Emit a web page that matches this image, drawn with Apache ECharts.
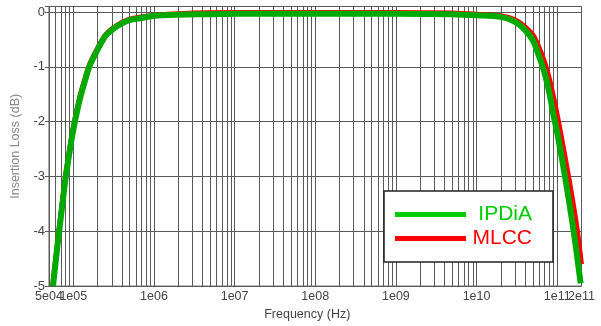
<!DOCTYPE html>
<html>
<head>
<meta charset="utf-8">
<script src="https://cdn.jsdelivr.net/npm/echarts@6/dist/echarts.min.js"></script>
<style>
html,body{margin:0;padding:0;background:#fff;}
#chart{width:601px;height:326px;}
</style>
</head>
<body>
<div id="chart"></div>
<script>
// ---- data ----
const seriesNames = ['IPDiA', 'MLCC'];

const freqIPDiA = [5.6e4, 6e4, 6.5e4, 7e4, 8e4, 9e4, 1e5, 1.2e5, 1.4e5, 1.6e5, 2e5, 2.5e5, 3e5, 4e5, 5e5, 7e5, 1e6, 2e6, 5e6, 1e7, 1e8, 1e9, 5e9, 1e10, 2e10, 3e10, 4e10, 5e10, 6e10, 7e10, 8e10, 9e10, 1e11, 1.2e11, 1.4e11, 1.6e11, 1.8e11, 1.95e11];
const lossIPDiA = [-5.0, -4.6, -4.15, -3.75, -3.05, -2.55, -2.15, -1.6, -1.25, -0.98, -0.69, -0.44, -0.33, -0.21, -0.15, -0.11, -0.07, -0.05, -0.04, -0.03, -0.03, -0.03, -0.04, -0.06, -0.09, -0.18, -0.33, -0.52, -0.82, -1.12, -1.48, -1.88, -2.2, -2.85, -3.45, -4.0, -4.55, -4.95];

const freqMLCC = [5.55e4, 6e4, 6.5e4, 7e4, 8e4, 9e4, 1e5, 1.2e5, 1.4e5, 1.6e5, 2e5, 2.5e5, 3e5, 4e5, 5e5, 7e5, 1e6, 2e6, 1e7, 1e8, 1e9, 5e9, 1e10, 2e10, 3e10, 4e10, 5e10, 6e10, 7e10, 8e10, 9e10, 1e11, 1.2e11, 1.4e11, 1.6e11, 1.8e11, 2e11];
const lossMLCC = [-5.0, -4.55, -4.1, -3.7, -3.0, -2.5, -2.1, -1.56, -1.21, -0.95, -0.66, -0.42, -0.31, -0.19, -0.13, -0.09, -0.06, -0.03, -0.01, -0.01, -0.01, -0.02, -0.04, -0.07, -0.14, -0.27, -0.42, -0.66, -0.92, -1.22, -1.55, -1.88, -2.5, -3.05, -3.55, -4.05, -4.6];

const xLabelValues = [1e5, 1e6, 1e7, 1e8, 1e9, 1e10, 1e11];
const xEndLabelValues = [5e4, 2e11];
const xGridMantissas = [1, 2, 3, 4, 5, 6, 7, 8, 9];
const xGridDecades = [1e4, 1e5, 1e6, 1e7, 1e8, 1e9, 1e10, 1e11];
const yTicks = [-5, -4, -3, -2, -1, 0];

// ---- build ----
const X_MIN = 5e4, X_MAX = 2e11;
// nudge end values inward by a negligible amount so float round-trips keep them
const nudge = v => (v <= X_MIN ? v * 1.000001 : v >= X_MAX ? v * 0.999999 : v);
const xGridValues = [];
xGridDecades.forEach(d => xGridMantissas.forEach(m => {
  const v = m * d;
  if (v >= X_MIN && v <= X_MAX) xGridValues.push(nudge(v));
}));

function fmtExp(v) {
  const e = Math.floor(Math.log10(v) + 1e-6);
  const m = Math.round(v / Math.pow(10, e));
  return m + 'e' + (e < 10 ? '0' : '') + e;
}
const pairs = (xs, ys) => xs.map((x, i) => [x, ys[i]]);

const FONT = 'Liberation Sans, Arial, sans-serif';
const GRID_COLOR = '#5a5a5a';
const LABEL_STYLE = {fontFamily: FONT, fontSize: 12.5, color: '#444', margin: 4};

const chart = echarts.init(document.getElementById('chart'), null, {renderer: 'canvas'});
chart.setOption({
  animation: false,
  backgroundColor: '#fff',
  grid: {
    left: 49, right: 19.5, top: 6.5, bottom: 36.5,
    show: true, borderColor: GRID_COLOR, borderWidth: 1, backgroundColor: 'transparent'
  },
  xAxis: [
    {
      type: 'log',
      logBase: 10,
      min: X_MIN,
      max: X_MAX,
      name: 'Frequency (Hz)',
      nameLocation: 'middle',
      nameGap: 19,
      nameTextStyle: {fontFamily: FONT, fontSize: 12.5, color: '#444', padding: [0, 16, 0, 0]},
      axisLine: {show: true, lineStyle: {color: GRID_COLOR, width: 1}},
      axisTick: {show: false, customValues: xGridValues},
      axisLabel: Object.assign({customValues: xLabelValues, formatter: v => fmtExp(v)}, LABEL_STYLE),
      splitLine: {show: true, lineStyle: {color: GRID_COLOR, width: 1}},
      minorTick: {show: false},
      minorSplitLine: {show: false}
    },
    {
      type: 'log',
      logBase: 10,
      min: X_MIN,
      max: X_MAX,
      position: 'bottom',
      offset: 0,
      axisLine: {show: false},
      axisTick: {show: false},
      axisLabel: Object.assign({customValues: xEndLabelValues.map(nudge), formatter: v => fmtExp(v)}, LABEL_STYLE),
      splitLine: {show: false},
      minorTick: {show: false},
      minorSplitLine: {show: false}
    }
  ],
  yAxis: {
    type: 'value',
    min: -5,
    max: 0.1,
    interval: 1,
    name: 'Insertion Loss (dB)',
    nameLocation: 'middle',
    nameRotate: 90,
    nameGap: 22,
    nameTextStyle: {fontFamily: FONT, fontSize: 12.5, color: '#8a8a8a'},
    axisLine: {show: true, lineStyle: {color: GRID_COLOR, width: 1}},
    axisTick: {show: true, length: 4, lineStyle: {color: GRID_COLOR}},
    axisLabel: {
      formatter: v => (yTicks.indexOf(Math.round(v * 1000) / 1000) >= 0 ? String(Math.round(v)) : ''),
      fontFamily: FONT, fontSize: 13, color: '#444', margin: 4
    },
    splitLine: {show: true, lineStyle: {color: GRID_COLOR, width: 1}}
  },
  legend: {
    show: true,
    orient: 'vertical',
    left: 384,
    top: 191,
    padding: [13, 21, 13, 11],
    itemGap: 3,
    itemWidth: 71,
    itemHeight: 5,
    icon: 'rect',
    backgroundColor: '#fff',
    borderColor: '#222',
    borderWidth: 1.5,
    data: [
      {name: seriesNames[0], itemStyle: {color: '#00cc00'}},
      {name: seriesNames[1], itemStyle: {color: '#ff0000'}}
    ],
    formatter: name => (name === seriesNames[0] ? '{g|' + name + '}' : '{r|' + name + '}'),
    textStyle: {
      fontFamily: FONT,
      fontSize: 21,
      rich: {
        g: {fontFamily: FONT, fontSize: 21, color: '#00cc00', width: 61, align: 'right'},
        r: {fontFamily: FONT, fontSize: 21, color: '#ff0000', width: 61, align: 'right'}
      }
    }
  },
  series: [
    {
      name: seriesNames[1],
      type: 'line',
      data: pairs(freqMLCC, lossMLCC),
      smooth: 0.3,
      symbol: 'none',
      clip: true,
      lineStyle: {color: '#ff0000', width: 5},
      itemStyle: {color: '#ff0000'},
      z: 2
    },
    {
      name: seriesNames[0],
      type: 'line',
      data: pairs(freqIPDiA, lossIPDiA),
      smooth: 0.3,
      symbol: 'none',
      clip: true,
      lineStyle: {color: '#00aa00', width: 6},
      itemStyle: {color: '#00aa00'},
      z: 3
    }
  ]
});
</script>
</body>
</html>
